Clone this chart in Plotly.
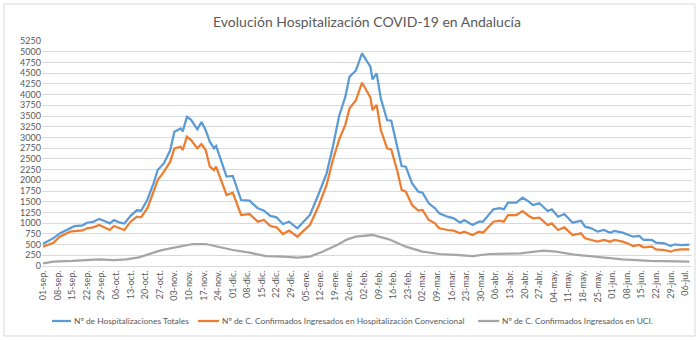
import plotly.graph_objects as go

dates = [
    "2020-09-01", "2020-09-06", "2020-09-09", "2020-09-14", "2020-09-16", "2020-09-20", "2020-09-22", "2020-09-25",
    "2020-09-28", "2020-10-01", "2020-10-03", "2020-10-05", "2020-10-08", "2020-10-10", "2020-10-13", "2020-10-16",
    "2020-10-18", "2020-10-21", "2020-10-24", "2020-10-26", "2020-10-29", "2020-11-01", "2020-11-03", "2020-11-06",
    "2020-11-07", "2020-11-09", "2020-11-11", "2020-11-14", "2020-11-16", "2020-11-18", "2020-11-20", "2020-11-22",
    "2020-11-23", "2020-11-28", "2020-12-01", "2020-12-05", "2020-12-09", "2020-12-13", "2020-12-16", "2020-12-19",
    "2020-12-22", "2020-12-25", "2020-12-28", "2021-01-01", "2021-01-04", "2021-01-07", "2021-01-11", "2021-01-15",
    "2021-01-18", "2021-01-21", "2021-01-24", "2021-01-26", "2021-01-29", "2021-02-01", "2021-02-03", "2021-02-05",
    "2021-02-06", "2021-02-08", "2021-02-10", "2021-02-13", "2021-02-15", "2021-02-18", "2021-02-20", "2021-02-22",
    "2021-02-25", "2021-02-28", "2021-03-02", "2021-03-05", "2021-03-08", "2021-03-10", "2021-03-14", "2021-03-17",
    "2021-03-20", "2021-03-22", "2021-03-26", "2021-03-29", "2021-03-31", "2021-04-05", "2021-04-08", "2021-04-10",
    "2021-04-12", "2021-04-16", "2021-04-19", "2021-04-22", "2021-04-24", "2021-04-27", "2021-04-28", "2021-05-01",
    "2021-05-03", "2021-05-06", "2021-05-09", "2021-05-13", "2021-05-17", "2021-05-19", "2021-05-22", "2021-05-25",
    "2021-05-28", "2021-05-31", "2021-06-02", "2021-06-06", "2021-06-09", "2021-06-11", "2021-06-14", "2021-06-16",
    "2021-06-20", "2021-06-22", "2021-06-26", "2021-06-29", "2021-07-01", "2021-07-04", "2021-07-08",
]

totales = [
    520, 650, 760, 870, 930, 950, 1010, 1030,
    1100, 1040, 995, 1070, 1010, 990, 1170, 1300,
    1290, 1540, 1930, 2240, 2400, 2700, 3130, 3210,
    3140, 3480, 3410, 3190, 3360, 3170, 2900, 2745,
    2800, 2085, 2100, 1540, 1525, 1345, 1290, 1170,
    1136, 980, 1034, 880, 1034, 1190, 1657, 2162,
    2784, 3500, 3950, 4420, 4557, 4962, 4806, 4651,
    4356, 4496, 3912, 3406, 3391, 2784, 2333, 2317,
    1929, 1734, 1711, 1462, 1345, 1229, 1151, 1112,
    1011, 1073, 957, 1034, 1034, 1322, 1350, 1322,
    1478, 1478, 1594, 1501, 1423, 1462, 1423, 1283,
    1322, 1151, 1213, 1011, 1058, 918, 879, 801,
    840, 777, 817, 777, 723, 684, 700, 607,
    607, 544, 529, 467, 506, 490, 498,
]

convencional = [
    451, 544, 684, 801, 815, 830, 879, 902,
    957, 880, 840, 933, 870, 840, 1034, 1151,
    1136, 1345, 1734, 2006, 2200, 2434, 2745, 2784,
    2706, 3017, 2940, 2745, 2846, 2706, 2317, 2240,
    2317, 1657, 1711, 1190, 1213, 1034, 1073, 933,
    902, 747, 824, 684, 824, 957, 1384, 1890,
    2473, 2950, 3300, 3679, 3860, 4277, 4107, 3935,
    3640, 3756, 3173, 2745, 2722, 2200, 1773, 1734,
    1423, 1291, 1307, 1073, 995, 879, 840, 824,
    762, 801, 723, 801, 777, 1034, 1060, 1034,
    1190, 1190, 1283, 1167, 1112, 1128, 1089, 957,
    995, 840, 902, 723, 762, 645, 607, 567,
    607, 567, 607, 567, 513, 467, 490, 436,
    451, 389, 373, 334, 373, 389, 389,
]

uci_dates = [
    "2020-09-01", "2020-09-06", "2020-09-15", "2020-09-25", "2020-09-28", "2020-10-05", "2020-10-11", "2020-10-17",
    "2020-10-22", "2020-10-27", "2020-11-01", "2020-11-06", "2020-11-12", "2020-11-18", "2020-11-22", "2020-12-01",
    "2020-12-09", "2020-12-17", "2020-12-25", "2021-01-01", "2021-01-07", "2021-01-13", "2021-01-20", "2021-01-25",
    "2021-01-29", "2021-02-06", "2021-02-14", "2021-02-22", "2021-03-02", "2021-03-10", "2021-03-18", "2021-03-26",
    "2021-04-03", "2021-04-11", "2021-04-18", "2021-04-29", "2021-05-05", "2021-05-15", "2021-05-26", "2021-06-06",
    "2021-06-19", "2021-07-08",
]
uci = [
    62, 101, 117, 140, 156, 140, 156, 202,
    280, 358, 412, 451, 513, 513, 467, 373,
    311, 233, 218, 194, 218, 334, 490, 622,
    684, 723, 622, 451, 334, 280, 257, 233,
    280, 296, 296, 358, 334, 257, 202, 156,
    117, 101,
]

tick_dates = [
    "2020-09-01", "2020-09-08", "2020-09-15", "2020-09-22", "2020-09-29", "2020-10-06", "2020-10-13", "2020-10-20",
    "2020-10-27", "2020-11-03", "2020-11-10", "2020-11-17", "2020-11-24", "2020-12-01", "2020-12-08", "2020-12-15",
    "2020-12-22", "2020-12-29", "2021-01-05", "2021-01-12", "2021-01-19", "2021-01-26", "2021-02-02", "2021-02-09",
    "2021-02-16", "2021-02-23", "2021-03-02", "2021-03-09", "2021-03-16", "2021-03-23", "2021-03-30", "2021-04-06",
    "2021-04-13", "2021-04-20", "2021-04-27", "2021-05-04", "2021-05-11", "2021-05-18", "2021-05-25", "2021-06-01",
    "2021-06-08", "2021-06-15", "2021-06-22", "2021-06-29", "2021-07-06",
]
tick_labels = [
    "01-sep.", "08-sep.", "15-sep.", "22-sep.", "29-sep.", "06-oct.", "13-oct.", "20-oct.",
    "27-oct.", "03-nov.", "10-nov.", "17-nov.", "24-nov.", "01-dic.", "08-dic.", "15-dic.",
    "22-dic.", "29-dic.", "05-ene.", "12-ene.", "19-ene.", "26-ene.", "02-feb.", "09-feb.",
    "16-feb.", "23-feb.", "02-mar.", "09-mar.", "16-mar.", "23-mar.", "30-mar.", "06-abr.",
    "13-abr.", "20-abr.", "27-abr.", "04-may.", "11-may.", "18-may.", "25-may.", "01-jun.",
    "08-jun.", "15-jun.", "22-jun.", "29-jun.", "06-jul.",
]

series_names = [
    "Nº de Hospitalizaciones Totales",
    "Nº de C. Confirmados Ingresados en Hospitalización Convencional",
    "Nº de C. Confirmados Ingresados en UCI.",
]
colors = ["#5B9BD5", "#ED7D31", "#A5A5A5"]

FONT = "Lato, 'Liberation Sans', sans-serif"
TXT = "#595959"

fig = go.Figure()
for xs, ys, name, col in [(dates, totales, series_names[0], colors[0]),
                          (dates, convencional, series_names[1], colors[1]),
                          (uci_dates, uci, series_names[2], colors[2])]:
    fig.add_trace(go.Scatter(x=xs, y=ys, mode="lines", name=name,
                             line=dict(color=col, width=2.25)))

L, R, T, B = 42, 8, 41, 74
W, H = 700, 340
pw, ph = W - L - R, H - T - B

def px_x(p):
    return (p - L) / pw

def px_y(p):
    return (T + ph - p) / ph

# manual legend (line sample + text), positioned as in the reference
legend_pos = [(52, 72), (198, 220), (478, 500)]
legend_y = 321
shapes = [dict(type="rect", xref="paper", yref="paper",
               x0=px_x(4), x1=px_x(695), y0=px_y(336), y1=px_y(4),
               line=dict(color="#D9D9D9", width=1), fillcolor="rgba(0,0,0,0)", layer="below")]
annotations = []
for (x0, xt), name, col in zip(legend_pos, series_names, colors):
    shapes.append(dict(type="line", xref="paper", yref="paper",
                       x0=px_x(x0), x1=px_x(xt - 1), y0=px_y(legend_y), y1=px_y(legend_y),
                       line=dict(color=col, width=2.25)))
    annotations.append(dict(text=name, xref="paper", yref="paper", x=px_x(xt), y=px_y(legend_y),
                            xanchor="left", yanchor="middle", showarrow=False,
                            font=dict(family=FONT, size=8.4, color=TXT)))

fig.update_layout(
    width=W, height=H,
    margin=dict(l=L, r=R, t=T, b=B, pad=0),
    paper_bgcolor="white", plot_bgcolor="white",
    font=dict(family=FONT, color=TXT, size=9),
    title=dict(text="Evolución Hospitalización COVID-19 en Andalucía",
               x=0.5, xanchor="center", xref="paper", y=1 - 22 / H, yanchor="middle",
               font=dict(family=FONT, size=14, color=TXT)),
    showlegend=False,
    xaxis=dict(type="date", range=["2020-08-31 12:00", "2021-07-09 06:00"],
               tickmode="array", tickvals=tick_dates, ticktext=tick_labels, tickangle=-90,
               showgrid=False, zeroline=False, showline=True, linecolor="#D9D9D9", linewidth=1,
               ticks="", tickfont=dict(family=FONT, size=9, color=TXT)),
    yaxis=dict(range=[0, 5250], tick0=0, dtick=250, showgrid=True, gridcolor="#D9D9D9",
               gridwidth=1, zeroline=False, showline=False, ticks="",
               tickfont=dict(family=FONT, size=9, color=TXT)),
    shapes=shapes,
    annotations=annotations,
)

fig.write_html("out.html")
